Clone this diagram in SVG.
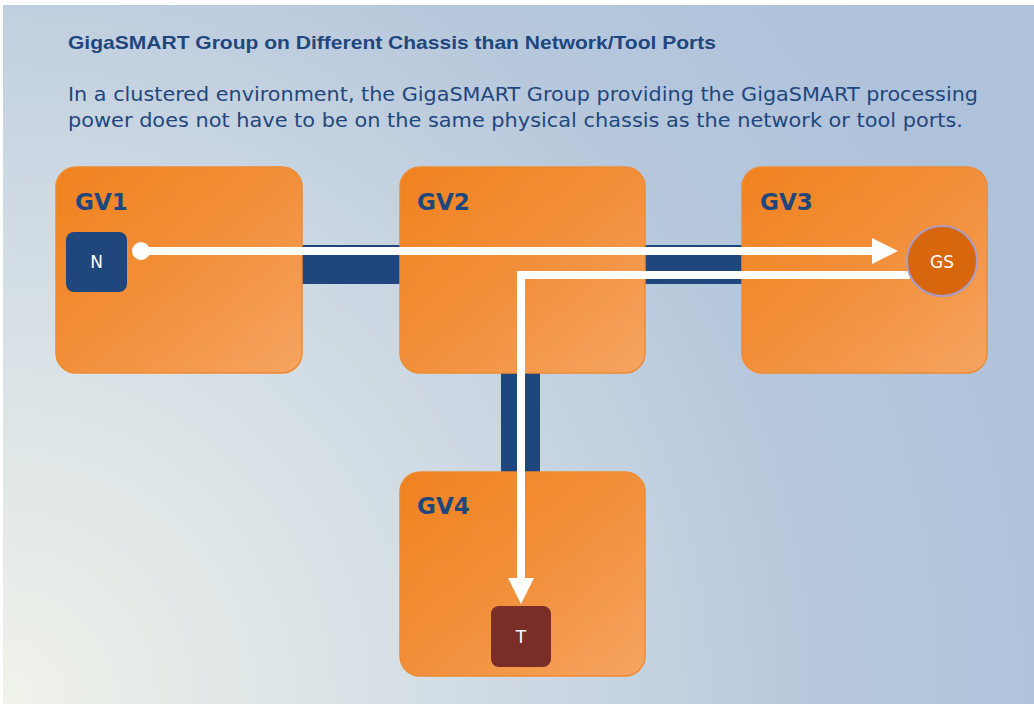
<svg xmlns="http://www.w3.org/2000/svg" width="1034" height="704" viewBox="0 0 1034 704">
<defs>
<radialGradient id="bg" gradientUnits="userSpaceOnUse" cx="0" cy="704" r="1100">
<stop offset="0" stop-color="#f1f3ea"/>
<stop offset="0.35" stop-color="#d7e0e6"/>
<stop offset="0.75" stop-color="#b7c8dc"/>
<stop offset="1" stop-color="#afc2db"/>
</radialGradient>
<linearGradient id="box" x1="0" y1="0" x2="1" y2="1">
<stop offset="0" stop-color="#f0821f"/>
<stop offset="0.5" stop-color="#f28f3a"/>
<stop offset="1" stop-color="#f5a461"/>
</linearGradient>
<marker id="arr" markerUnits="userSpaceOnUse" markerWidth="28" markerHeight="28" refX="0" refY="13" orient="auto" viewBox="0 0 28 26">
<path d="M0,0 L26,13 L0,26 Z" fill="#ffffff"/>
</marker>
<style>
.chassis{fill:url(#box);stroke:#ee8b33;stroke-width:1.5}
.gv{font-family:"DejaVu Sans",sans-serif;font-weight:bold;font-size:23px;fill:#1f477d}
.link{fill:#1f477d}
.flow{fill:none;stroke:#ffffff;stroke-width:8}
.port{font-family:"DejaVu Sans",sans-serif;font-size:17px;fill:#ffffff;text-anchor:middle}
</style>
</defs>
<rect x="0" y="0" width="1034" height="704" fill="#ffffff"/>
<rect x="3" y="5" width="1031" height="699" fill="url(#bg)"/>
<text x="68" y="49" font-family="Liberation Sans, sans-serif" font-weight="bold" font-size="19" fill="#1f477d" textLength="648" lengthAdjust="spacingAndGlyphs">GigaSMART Group on Different Chassis than Network/Tool Ports</text>
<text x="68" y="101" font-family="DejaVu Sans, sans-serif" font-size="19" fill="#1f477d" textLength="910" lengthAdjust="spacingAndGlyphs">In a clustered environment, the GigaSMART Group providing the GigaSMART processing</text>
<text x="68" y="127" font-family="DejaVu Sans, sans-serif" font-size="19" fill="#1f477d" textLength="895" lengthAdjust="spacingAndGlyphs">power does not have to be on the same physical chassis as the network or tool ports.</text>
<g id="links">
<rect class="link" x="290" y="245" width="120" height="39"/>
<rect class="link" x="635" y="245" width="117" height="39"/>
<rect class="link" x="501" y="365" width="39" height="115"/>
</g>
<g id="GV1">
<rect class="chassis" x="56" y="167" width="246" height="206" rx="20"/>
<text class="gv" x="75" y="210">GV1</text>
</g>
<g id="GV2">
<rect class="chassis" x="400" y="167" width="245" height="206" rx="20"/>
<text class="gv" x="417" y="210">GV2</text>
</g>
<g id="GV3">
<rect class="chassis" x="742" y="167" width="245" height="206" rx="20"/>
<text class="gv" x="760" y="210">GV3</text>
</g>
<g id="GV4">
<rect class="chassis" x="400" y="472" width="245" height="204" rx="20"/>
<text class="gv" x="417" y="514">GV4</text>
</g>
<g id="N">
<rect x="66" y="232" width="61" height="60" rx="8" fill="#1f477d"/>
<text class="port" x="96.5" y="268">N</text>
</g>
<g id="T">
<rect x="491" y="606" width="60" height="61" rx="8" fill="#7a2e27"/>
<text class="port" x="521" y="643">T</text>
</g>
<g id="connectors">
<circle cx="141" cy="251" r="9" fill="#ffffff"/>
<path class="flow" d="M141,251 H872" marker-end="url(#arr)"/>
<path class="flow" d="M910,275 H521 V578" marker-end="url(#arr)"/>
</g>
<g id="GS">
<circle cx="942" cy="261" r="35" fill="#d8660c" stroke="#a89bc6" stroke-width="2"/>
<text class="port" x="942" y="268">GS</text>
</g>
</svg>
